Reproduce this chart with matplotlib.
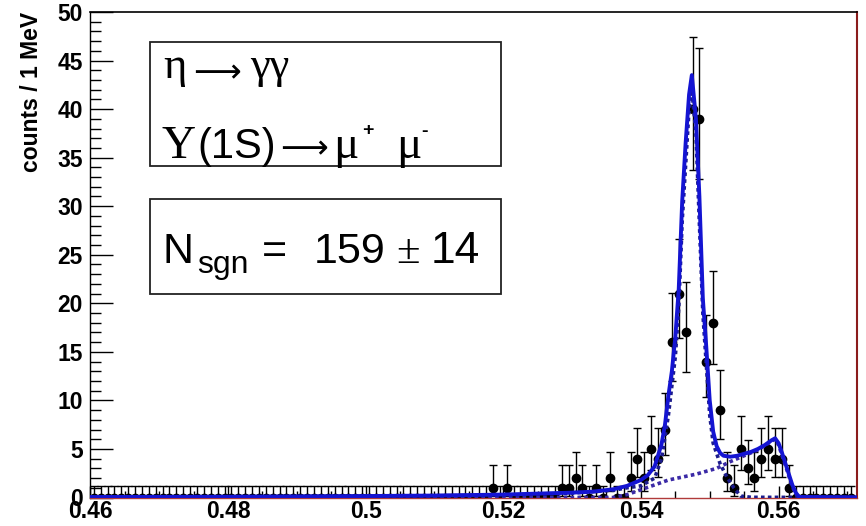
import math
import numpy as np
import matplotlib
matplotlib.use("Agg")
import matplotlib.pyplot as plt
from matplotlib.patches import Rectangle
from matplotlib.ticker import MultipleLocator

# gamma-gamma invariant mass, 1 MeV bins from 0.460 to 0.571 GeV
bin_width = 0.001
x_min, x_max = 0.46, 0.5714
counts = [
    0, 0, 0, 0, 0, 0, 0, 0, 0, 0,
    0, 0, 0, 0, 0, 0, 0, 0, 0, 0,
    0, 0, 0, 0, 0, 0, 0, 0, 0, 0,
    0, 0, 0, 0, 0, 0, 0, 0, 0, 0,
    0, 0, 0, 0, 0, 0, 0, 0, 0, 0,
    0, 0, 0, 0, 0, 0, 0, 0, 1, 0,
    1, 0, 0, 0, 0, 0, 0, 0, 1, 1,
    2, 1, 0, 1, 0, 2, 0, 0, 2, 4,
    2, 5, 4, 7, 16, 21, 17, 40, 39, 14,
    18, 9, 2, 1, 5, 3, 2, 4, 5, 4,
    4, 1, 0, 0, 0, 0, 0, 0, 0, 0, 0,
]

# fitted pdf: total, signal and background components
fit_x = [0.460, 0.480, 0.500, 0.510, 0.520, 0.525, 0.530, 0.533, 0.536, 0.538,
         0.540, 0.541, 0.542, 0.543, 0.5435, 0.544, 0.5445, 0.545, 0.5455, 0.546,
         0.5465, 0.547, 0.5474, 0.548, 0.5485, 0.549, 0.5495, 0.550, 0.5505, 0.551,
         0.5515, 0.552, 0.553, 0.554, 0.555, 0.556, 0.557, 0.558, 0.559, 0.5595,
         0.560, 0.5605, 0.561, 0.5615, 0.562, 0.5625, 0.563, 0.5714]
fit_total = [0.05, 0.08, 0.15, 0.2, 0.3, 0.4, 0.5, 0.6, 0.85, 1.2,
             1.8, 2.3, 3.2, 5.5, 7.5, 10.5, 13.0, 16.5, 21.5, 30.5,
             36.5, 41.5, 43.5, 39.0, 31.0, 20.5, 15.5, 10.0, 6.8, 5.3,
             4.6, 4.3, 4.2, 4.3, 4.5, 4.7, 5.0, 5.4, 5.9, 6.1,
             5.6, 4.6, 3.5, 2.4, 1.3, 0.5, 0.05, 0.02]

sig_x = [0.460, 0.500, 0.520, 0.530, 0.536, 0.538, 0.540, 0.542, 0.543, 0.544,
         0.545, 0.5455, 0.546, 0.547, 0.5474, 0.548, 0.549, 0.550, 0.5505, 0.5515,
         0.5525, 0.5535, 0.5545, 0.556, 0.5714]
sig_y = [0.02, 0.1, 0.25, 0.45, 0.75, 1.0, 1.2, 2.0, 4.0, 8.5,
         14.5, 19.5, 28.5, 40.0, 42.0, 37.5, 19.0, 8.5, 5.6, 3.5,
         2.1, 1.0, 0.15, 0.02, 0.0]

bkg_x = [0.460, 0.536, 0.538, 0.540, 0.542, 0.544, 0.546, 0.548, 0.550, 0.551,
         0.553, 0.555, 0.557, 0.559, 0.5595, 0.560, 0.561, 0.562, 0.5628, 0.5714]
bkg_y = [0.0, 0.0, 0.3, 0.8, 1.3, 1.8, 2.1, 2.4, 2.8, 3.0,
         3.7, 4.3, 4.9, 5.8, 6.0, 5.4, 3.3, 1.1, 0.05, 0.0]


def poisson_cdf(k, mu):
    if k < 0:
        return 0.0
    return sum(math.exp(-mu + i * math.log(mu) - math.lgamma(i + 1)) if mu > 0 else float(i == 0)
               for i in range(k + 1))


def poisson_errors(n, cl=0.6827):
    # central interval, one-sided for empty bins
    def solve(f):
        lo, hi = 0.0, n + 30.0
        for _ in range(80):
            mid = 0.5 * (lo + hi)
            if f(mid) > 0:
                lo = mid
            else:
                hi = mid
        return 0.5 * (lo + hi)
    if n == 0:
        return 0.0, -math.log(1 - cl)
    alpha = 0.5 * (1 - cl)
    up = solve(lambda mu: poisson_cdf(n, mu) - alpha)
    low = solve(lambda mu: alpha - (1 - poisson_cdf(n - 1, mu)))
    return n - low, up - n


centers = x_min + bin_width * (np.arange(len(counts)) + 0.5)
errs = np.array([poisson_errors(n) for n in counts])

plt.rcParams['font.family'] = ['Liberation Sans', 'DejaVu Sans']

W, H = 866, 526
fig = plt.figure(figsize=(W / 100, H / 100), dpi=100)
ax = fig.add_axes([90.3 / W, 1 - 497.5 / H, (857 - 90.3) / W, (497.5 - 12) / H])

ax.errorbar(centers, counts, yerr=[errs[:, 0], errs[:, 1]], fmt='o', color='black',
            ms=6, elinewidth=1.0, capsize=2.6, capthick=1.0, zorder=2)

ax.plot(bkg_x, bkg_y, color='#3b2aa6', lw=2.6, ls=(0, (1, 0.9)), zorder=3)
ax.plot(sig_x, sig_y, color='#1c1c8c', lw=2.6, ls=(0, (1, 0.9)), zorder=3)
ax.plot(fit_x, fit_total, color='#1414d2', lw=2.8, zorder=4)

ax.set_xlim(x_min, x_max)
ax.set_ylim(0, 50)
ax.xaxis.set_major_locator(MultipleLocator(0.02))
ax.xaxis.set_minor_locator(MultipleLocator(0.005))
ax.yaxis.set_major_locator(MultipleLocator(5))
ax.yaxis.set_minor_locator(MultipleLocator(1))
ax.set_xticks([0.46, 0.48, 0.50, 0.52, 0.54, 0.56])
ax.set_xticklabels(['0.46', '0.48', '0.5', '0.52', '0.54', '0.56'])

ax.tick_params(axis='y', which='major', direction='in', length=16.5, width=1, pad=5.5,
               labelsize=16.5)
ax.tick_params(axis='y', which='minor', direction='in', length=8, width=1)
ax.tick_params(axis='x', which='major', direction='in', length=9, width=1, pad=1.5,
               labelsize=16.5)
ax.tick_params(axis='x', which='minor', direction='in', length=5, width=1)
for lab in ax.get_xticklabels() + ax.get_yticklabels():
    lab.set_fontweight('bold')

ax.spines['left'].set_linewidth(1.0)
ax.spines['top'].set_linewidth(1.2)
ax.spines['right'].set_color('#8b1c1c')
ax.spines['right'].set_linewidth(1.5)
ax.spines['bottom'].set_color('#b03a3a')
ax.spines['bottom'].set_linewidth(1.0)

ax.set_ylabel('counts / 1 MeV', fontsize=16.5, fontweight='bold', loc='top')
ax.yaxis.set_label_coords(-0.062, 1.0)

# boxes with the decay chain and the fitted yield
for (x0, y0, x1, y1) in [(150, 42, 501, 166), (150, 199, 501, 294)]:
    fig.add_artist(Rectangle((x0 / W, 1 - y1 / H), (x1 - x0) / W, (y1 - y0) / H,
                             transform=fig.transFigure, facecolor='white',
                             edgecolor='#222222', lw=1.3, zorder=5))

serif = ['Liberation Serif', 'DejaVu Serif']
sans = ['Liberation Sans', 'DejaVu Sans']
arrow_font = ['DejaVu Sans', 'DejaVu Serif']


def put(x, y, s, size, family, **kw):
    kw.setdefault('va', 'baseline')
    fig.text(x / W, 1 - y / H, s, fontsize=size, family=family, zorder=6, **kw)


put(163, 78, 'η', 32, serif)
put(217, 73, '⟶', 24, arrow_font, va='center', ha='center')
put(250, 78, 'γγ', 32, serif)

put(161, 158, 'Υ', 34, serif)
put(197, 158, '(1S)', 30, sans)
put(304, 149, '⟶', 24, arrow_font, va='center', ha='center')
put(333, 158, 'μ', 34, serif)
put(368, 130, '+', 14, sans, va='center', ha='center', fontweight='bold')
put(396, 158, 'μ', 34, serif)
put(424, 132, '-', 14, sans, va='center', ha='center', fontweight='bold')

put(163, 263, 'N', 31, sans)
put(197, 273, 'sgn', 23, sans)
put(262, 263, '=', 31, sans)
put(314, 263, '159', 31, sans)
put(396, 263, '±', 31, serif)
put(431, 263, '14', 32, sans)

fig.savefig('out.png', dpi=100)
